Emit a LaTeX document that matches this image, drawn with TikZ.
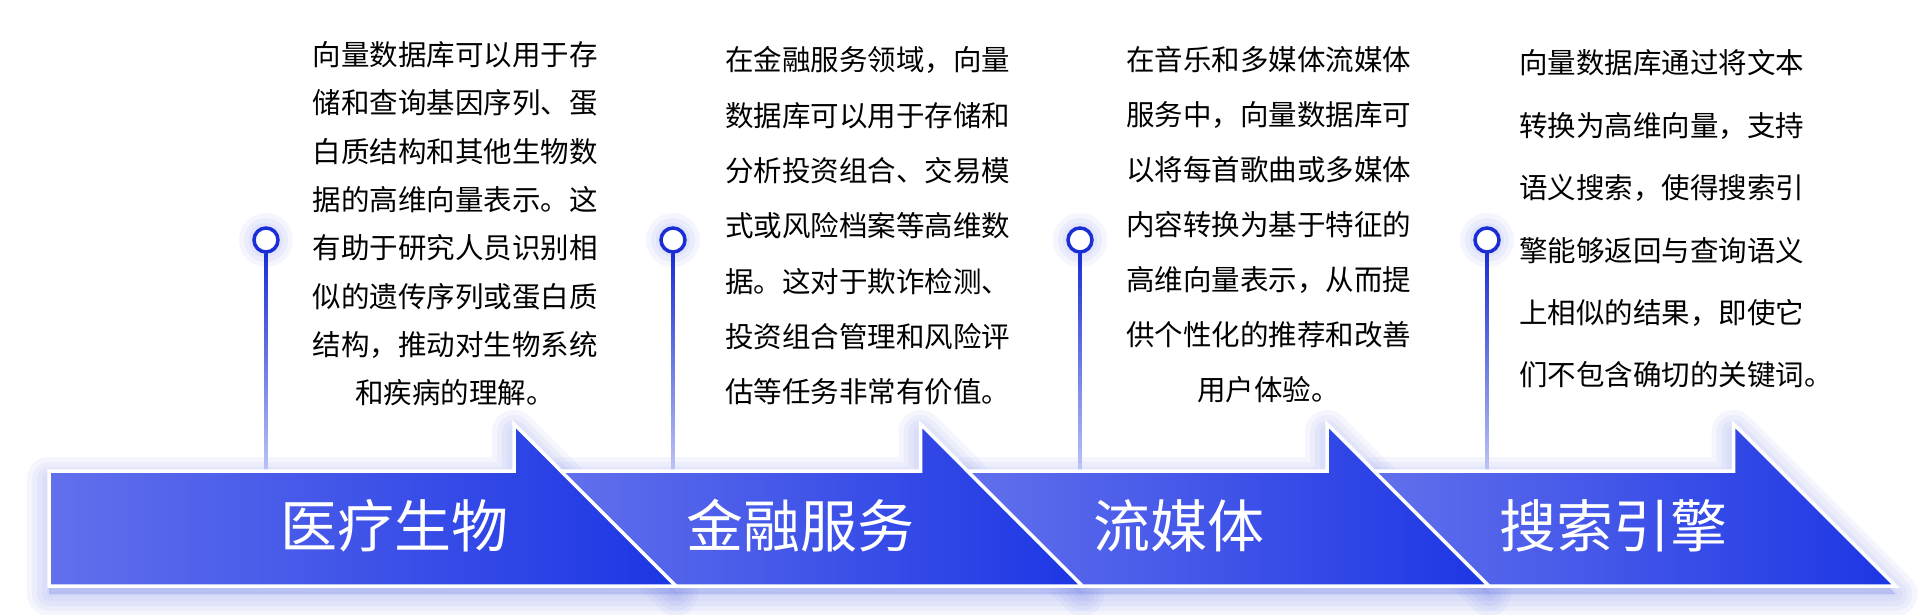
\documentclass[tikz,border=0pt]{standalone}
\usepackage{fontspec}
\newfontfamily\cjk{Noto Sans CJK SC}
\definecolor{barlight}{RGB}{98,112,236}
\definecolor{bardark}{RGB}{28,54,228}
\definecolor{dotblue}{RGB}{26,46,212}
\definecolor{linefade}{RGB}{188,196,245}
\definecolor{glowblue}{RGB}{110,126,228}

\begin{document}
\begin{tikzpicture}[x=1pt, y=1pt,
        desc/.style={inner sep=0pt, text=black, font=\cjk\fontsize{28.5}{#1}\selectfont},
        cardtitle/.style={inner sep=0pt, anchor=west, text=white, font=\cjk\fontsize{57}{60}\selectfont},
        ring/.style={circle, draw=dotblue, fill=white, line width=3.5pt, minimum size=24pt, inner sep=0pt}]
        \useasboundingbox (0, 0) rectangle (1928, 614);

        \foreach \lt/\lb/\n in {49/49/514, 561/676/920.5, 967.5/1082.5/1327, 1374/1489/1733.5} {
            \foreach \w in {44, 34, 24, 14, 4} {
                \filldraw[glowblue, opacity=0.07, line width=\w pt, line join=round, yshift=-8pt]
                    (\lt, 143) -- (\n, 143) -- (\n, 190) -- (\n+162, 28) -- (\lb, 28) -- cycle;
            }
        }

        \foreach \x [count=\i] in {266, 673, 1080, 1487} {
            \foreach \r in {27, 22, 17} {
                \fill[glowblue, opacity=0.08] (\x, 374) circle (\r);
            }
            \coordinate (foot\i) at (\x, 143);
            \node[ring] (dot\i) at (\x, 374) {};
            \shade[top color=dotblue, middle color=dotblue, bottom color=linefade]
                ([xshift=-1.75pt]dot\i.south) rectangle ([xshift=1.75pt]foot\i);
        }

        \foreach \lt/\lb/\n in {49/49/514, 561/676/920.5, 967.5/1082.5/1327, 1374/1489/1733.5} {
            \shadedraw[left color=barlight, right color=bardark, draw=white, line width=3.5pt]
                (\lt, 143) -- (\n, 143) -- (\n, 190) -- (\n+162, 28) -- (\lb, 28) -- cycle;
        }

        \foreach \name [count=\i] in {医疗生物, 金融服务, 流媒体, 搜索引擎} {
            \node[cardtitle] (title\i) at (280+406.5*\i-406.5, 88) {\name};
        }

        \node[desc=48.3, anchor=north, align=center] (medical) at (455, 572.5)
            {向量数据库可以用于存\\储和查询基因序列、蛋\\白质结构和其他生物数\\据的高维向量表示。这\\有助于研究人员识别相\\似的遗传序列或蛋白质\\结构，推动对生物系统\\和疾病的理解。};
        \node[desc=55.3, anchor=north, align=center] (finance) at (867.5, 567.5)
            {在金融服务领域，向量\\数据库可以用于存储和\\分析投资组合、交易模\\式或风险档案等高维数\\据。这对于欺诈检测、\\投资组合管理和风险评\\估等任务非常有价值。};
        \node[desc=55, anchor=north, align=center] (streaming) at (1268.5, 567.5)
            {在音乐和多媒体流媒体\\服务中，向量数据库可\\以将每首歌曲或多媒体\\内容转换为基于特征的\\高维向量表示，从而提\\供个性化的推荐和改善\\用户体验。};
        \node[desc=62.4, anchor=north west, align=left] (search) at (1519, 564.5)
            {向量数据库通过将文本\\转换为高维向量，支持\\语义搜索，使得搜索引\\擎能够返回与查询语义\\上相似的结果，即使它\\们不包含确切的关键词。};
\end{tikzpicture}
\end{document}
